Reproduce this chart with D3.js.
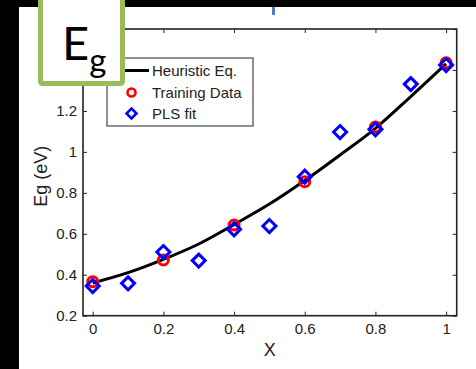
<!DOCTYPE html>
<html>
<head>
<meta charset="utf-8">
<script src="https://cdn.jsdelivr.net/npm/d3@7"></script>
<style>
  html, body { margin: 0; padding: 0; background: #000; }
  svg { display: block; }
</style>
</head>
<body>
<svg id="chart" width="476" height="369"></svg>
<script>
// ---- data ----
const xTrain = [0, 0.2, 0.4, 0.6, 0.8, 1];
const eTrain = [0.366, 0.472, 0.643, 0.854, 1.121, 1.435];

const xPLS = [0, 0.1, 0.2, 0.3, 0.4, 0.5, 0.6, 0.7, 0.8, 0.9, 1];
const ePLS = [0.345, 0.358, 0.511, 0.469, 0.622, 0.638, 0.879, 1.097, 1.11, 1.331, 1.424];

const xHeur = [0, 0.1, 0.2, 0.3, 0.4, 0.5, 0.6, 0.7, 0.8, 0.9, 1];
const eHeur = [0.36, 0.41, 0.475, 0.55, 0.645, 0.745, 0.86, 0.985, 1.115, 1.27, 1.43];

const xTicks = [0, 0.2, 0.4, 0.6, 0.8, 1];
const xTickLabels = ["0", "0.2", "0.4", "0.6", "0.8", "1"];
// 1.4 and 1.6 labels are hidden behind the "Eg" box in the reference
const yTicks = [0.2, 0.4, 0.6, 0.8, 1, 1.2, 1.4, 1.6];
const yTickLabels = ["0.2", "0.4", "0.6", "0.8", "1", "1.2", "", ""];

const legendLabels = ["Heuristic Eq.", "Training Data", "PLS fit"];
const xLabel = "X";
const yLabel = "Eg (eV)";

// ---- drawing ----
const svg = d3.select("#chart");
const font = "'Liberation Sans', Arial, Helvetica, sans-serif";

// white page area
svg.append("rect").attr("x", 19).attr("y", 7).attr("width", 476 - 19).attr("height", 369 - 7).attr("fill", "#fff");
// small blue fragment at top
svg.append("rect").attr("x", 272).attr("y", 7).attr("width", 3).attr("height", 8).attr("fill", "#4f81bd");

const L = 83, R = 456.7, T = 29, B = 315.7;
const x = d3.scaleLinear().domain([-0.0275, 1.03]).range([L, R]);
const y = d3.scaleLinear().domain([0.2, 1.6]).range([B, T]);

const tickFmt = (d) => xTickLabels[xTicks.indexOf(d)];
const yFmt = (d) => yTickLabels[yTicks.indexOf(d)];

// axes
const gx = svg.append("g").attr("transform", `translate(0,${B})`)
  .call(d3.axisBottom(x).tickValues(xTicks).tickFormat(tickFmt).tickSizeInner(-4).tickSizeOuter(0).tickPadding(8));
const gxTop = svg.append("g").attr("transform", `translate(0,${T})`)
  .call(d3.axisTop(x).tickValues(xTicks).tickFormat("").tickSizeInner(-4).tickSizeOuter(0));
const gy = svg.append("g").attr("transform", `translate(${L},0)`)
  .call(d3.axisLeft(y).tickValues(yTicks).tickFormat(yFmt).tickSizeInner(-4).tickSizeOuter(0).tickPadding(6));
const gyR = svg.append("g").attr("transform", `translate(${R},0)`)
  .call(d3.axisRight(y).tickValues(yTicks).tickFormat("").tickSizeInner(-4).tickSizeOuter(0));

[gx, gxTop, gy, gyR].forEach(g => {
  g.selectAll(".domain").remove();
  g.selectAll("line").attr("stroke", "#222").attr("stroke-width", 1);
  g.selectAll("text").attr("font-family", font).attr("font-size", 15).attr("fill", "#222");
});
gy.selectAll("text").filter(function () { return this.textContent === ""; }).remove();

// frame
svg.append("rect").attr("x", L).attr("y", T).attr("width", R - L).attr("height", B - T)
  .attr("fill", "none").attr("stroke", "#222").attr("stroke-width", 1.6);

// axis labels
svg.append("text").attr("x", (L + R) / 2).attr("y", 356).attr("text-anchor", "middle")
  .attr("font-family", font).attr("font-size", 18).attr("fill", "#222").text(xLabel);
svg.append("text").attr("transform", `translate(47,${(B + T) / 2 + 4}) rotate(-90)`).attr("text-anchor", "middle")
  .attr("font-family", font).attr("font-size", 18).attr("fill", "#222").text(yLabel);

// heuristic line
const heur = xHeur.map((d, i) => [d, eHeur[i]]);
svg.append("path").datum(heur)
  .attr("d", d3.line().x(d => x(d[0])).y(d => y(d[1])).curve(d3.curveMonotoneX))
  .attr("fill", "none").attr("stroke", "#000").attr("stroke-width", 3);

// training circles
const train = xTrain.map((d, i) => [d, eTrain[i]]);
svg.append("g").selectAll("circle").data(train).join("circle")
  .attr("cx", d => x(d[0])).attr("cy", d => y(d[1])).attr("r", 5)
  .attr("fill", "none").attr("stroke", "#ff0000").attr("stroke-width", 3);

// PLS diamonds
const diamond = (cx, cy, s) => `M${cx},${cy - s}L${cx + s},${cy}L${cx},${cy + s}L${cx - s},${cy}Z`;
const pls = xPLS.map((d, i) => [d, ePLS[i]]);
svg.append("g").selectAll("path").data(pls).join("path")
  .attr("d", d => diamond(x(d[0]), y(d[1]), 6.5))
  .attr("fill", "none").attr("stroke", "#0000ff").attr("stroke-width", 3);

// legend
const lg = svg.append("g");
lg.append("rect").attr("x", 107).attr("y", 58).attr("width", 146).attr("height", 68)
  .attr("fill", "#fff").attr("stroke", "#222").attr("stroke-width", 1);
const rowY = [70.5, 92.5, 113.5];
lg.append("line").attr("x1", 125).attr("x2", 149).attr("y1", rowY[0]).attr("y2", rowY[0])
  .attr("stroke", "#000").attr("stroke-width", 3);
lg.append("circle").attr("cx", 131.5).attr("cy", rowY[1]).attr("r", 4)
  .attr("fill", "none").attr("stroke", "#ff0000").attr("stroke-width", 2.6);
lg.append("path").attr("d", diamond(131.5, rowY[2], 5))
  .attr("fill", "none").attr("stroke", "#0000ff").attr("stroke-width", 2.6);
lg.selectAll("text.lab").data(legendLabels).join("text").attr("class", "lab")
  .attr("x", 152).attr("y", (d, i) => rowY[i] + 5.5)
  .attr("font-family", font).attr("font-size", 15).attr("fill", "#222").text(d => d);

// Eg label box
svg.append("rect").attr("x", 40.5).attr("y", -3).attr("width", 82).attr("height", 86.5).attr("rx", 2)
  .attr("fill", "#fff").attr("stroke", "#9bbb59").attr("stroke-width", 5);
const eg = svg.append("text").attr("x", 62).attr("y", 59.5)
  .attr("font-family", "Lato, 'Open Sans', sans-serif").attr("font-size", 47).attr("fill", "#000");
eg.append("tspan").text("E");
eg.append("tspan").attr("font-size", 33).attr("dy", 12).text("g");
</script>
</body>
</html>
